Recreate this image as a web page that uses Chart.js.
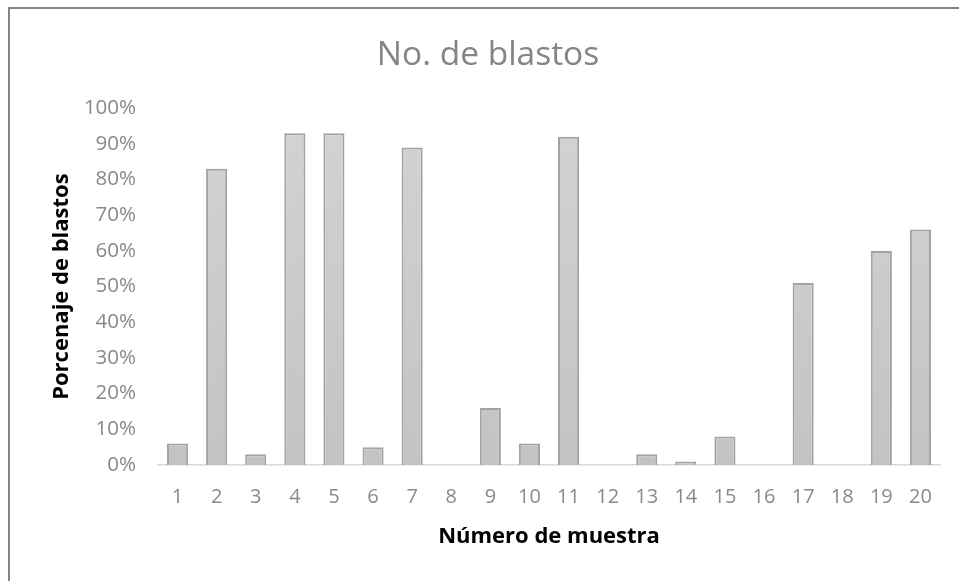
<!DOCTYPE html>
<html>
<head>
<meta charset="utf-8">
<script src="https://cdn.jsdelivr.net/npm/chart.js@4.4.1/dist/chart.umd.min.js"></script>
<style>
  html, body { margin: 0; padding: 0; background: #ffffff; }
  #wrap { position: relative; width: 959px; height: 581px; }
</style>
</head>
<body>
<div id="wrap"><canvas id="chart" width="959" height="581"></canvas></div>
<script>
// Sample numbers and the percentage of blasts counted in each one
const sampleNumbers = ['1','2','3','4','5','6','7','8','9','10','11','12','13','14','15','16','17','18','19','20'];
const blastPercent = [6, 83, 3, 93, 93, 5, 89, 0, 16, 6, 92, 0, 3, 1, 8, 0, 51, 0, 60, 66];
const percentTicks = [0, 10, 20, 30, 40, 50, 60, 70, 80, 90, 100];

const chartTitle = 'No. de blastos';
const xTitle = 'Número de muestra';
const yTitle = 'Porcenaje de blastos';

// Frame lines along the top and left edges of the chart box
const framePlugin = {
  id: 'frame',
  beforeDraw(chart) {
    const ctx = chart.ctx;
    ctx.save();
    ctx.fillStyle = '#ffffff';
    ctx.fillRect(0, 0, chart.width, chart.height);
    ctx.fillStyle = '#848484';
    ctx.fillRect(8, 7, chart.width - 8, 2);
    ctx.fillRect(8, 7, 2, chart.height - 7);
    ctx.restore();
  }
};

function barGradient(context) {
  const area = context.chart.chartArea;
  if (!area) return '#cccccc';
  const g = context.chart.ctx.createLinearGradient(0, area.top, 0, area.bottom);
  g.addColorStop(0, '#d3d3d3');
  g.addColorStop(1, '#c3c3c3');
  return g;
}

new Chart(document.getElementById('chart'), {
  type: 'bar',
  data: {
    labels: sampleNumbers,
    datasets: [{
      data: blastPercent,
      backgroundColor: barGradient,
      borderColor: '#a3a3a3',
      borderWidth: 2,
      barPercentage: 0.54,
      categoryPercentage: 1
    }]
  },
  options: {
    responsive: false,
    animation: false,
    layout: { padding: { left: 36, right: 19, top: 0, bottom: 0 } },
    plugins: {
      legend: { display: false },
      tooltip: { enabled: false },
      title: {
        display: true,
        text: chartTitle,
        color: '#858585',
        font: { family: 'Open Sans', size: 33.5, weight: 'normal' },
        padding: { top: 35, bottom: 33 }
      }
    },
    scales: {
      x: {
        grid: { display: false, drawTicks: false },
        border: { display: true, color: '#d9d9d9', width: 1.5 },
        ticks: {
          color: '#898989',
          font: { family: 'Open Sans', size: 20 },
          padding: 20,
          maxRotation: 0,
          autoSkip: false
        },
        title: {
          display: true,
          text: xTitle,
          color: '#000000',
          font: { family: 'Open Sans', size: 22, weight: 'bold' },
          padding: { top: 0, bottom: 31 }
        },
        afterFit(scale) { scale.height = 116; }
      },
      y: {
        min: 0,
        max: 100,
        grid: { display: false, drawTicks: false },
        border: { display: false },
        afterBuildTicks(scale) { scale.ticks = percentTicks.map(v => ({ value: v })); },
        ticks: {
          color: '#898989',
          font: { family: 'Open Sans', size: 20.5 },
          padding: 22,
          callback: v => v + '%'
        },
        title: {
          display: true,
          text: yTitle,
          color: '#000000',
          font: { family: 'Open Sans', size: 22, weight: 'bold' },
          padding: { top: 13, bottom: 0 }
        },
        afterFit(scale) { scale.width = 122; }
      }
    }
  },
  plugins: [framePlugin]
});
</script>
</body>
</html>
